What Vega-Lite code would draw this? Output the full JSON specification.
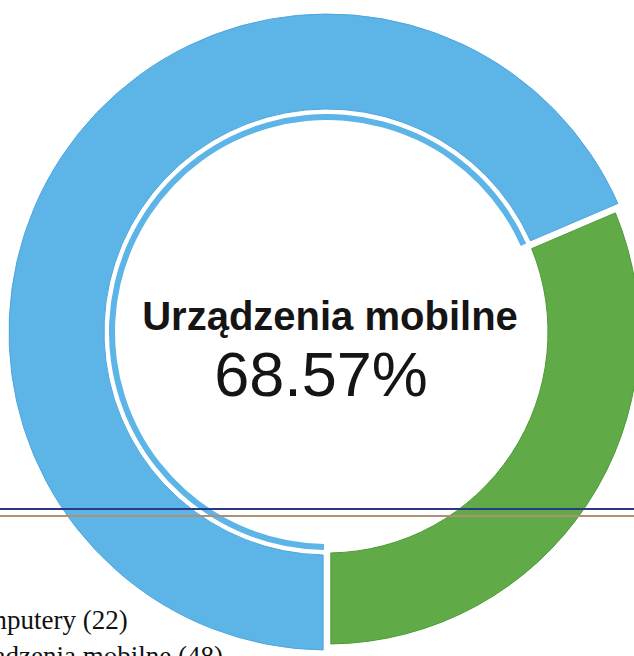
{
  "$schema": "https://vega.github.io/schema/vega-lite/v6.json",
  "width": 654,
  "height": 664,
  "padding": 0,
  "autosize": {"type": "none"},
  "background": "white",
  "config": {"view": {"stroke": null}},
  "datasets": {
    "segments": [
      {"cat": "Komputery (22)", "count": 22, "ord": 1},
      {"cat": "Urządzenia mobilne (48)", "count": 48, "ord": 2}
    ],
    "lines": [
      {"line": "navy", "pos": 76.66},
      {"line": "tan", "pos": 77.71}
    ],
    "center": [
      {"title": "Urządzenia mobilne", "pct": "68.57%"}
    ]
  },
  "layer": [
    {
      "data": {"name": "segments"},
      "transform": [
        {"stack": "count", "groupby": [], "sort": [{"field": "ord", "order": "ascending"}], "as": ["t0", "t1"]},
        {"filter": "datum.ord == 1"}
      ],
      "mark": {"type": "arc", "radius": 312, "radius2": 221, "padAngle": 0.02, "stroke": "#4c9a36", "strokeWidth": 1},
      "encoding": {
        "theta": {"field": "t0", "type": "quantitative", "scale": {"domain": [0, 70], "range": [1.1668, 7.45]}},
        "theta2": {"field": "t1"},
        "color": {
          "field": "cat", "type": "nominal",
          "scale": {"domain": ["Komputery (22)", "Urządzenia mobilne (48)"], "range": ["#60ab47", "#5cb4e7"]},
          "legend": {
            "orient": "none", "legendX": -74, "legendY": 607, "title": null,
            "symbolSize": 0, "symbolStrokeWidth": 0, "labelOffset": 0, "padding": 0,
            "labelFont": "Liberation Serif", "labelFontSize": 27, "labelColor": "#111111",
            "labelLimit": 600, "rowPadding": 8
          }
        }
      }
    },
    {
      "data": {"name": "segments"},
      "transform": [
        {"stack": "count", "groupby": [], "sort": [{"field": "ord", "order": "ascending"}], "as": ["t0", "t1"]},
        {"filter": "datum.ord == 2"}
      ],
      "mark": {"type": "arc", "radius": 318, "radius2": 223, "padAngle": 0.02, "stroke": "#4ea6dc", "strokeWidth": 1},
      "encoding": {
        "theta": {"field": "t0", "type": "quantitative", "scale": {"domain": [0, 70], "range": [1.1668, 7.45]}},
        "theta2": {"field": "t1"},
        "color": {"field": "cat", "type": "nominal"}
      }
    },
    {
      "data": {"name": "segments"},
      "transform": [
        {"stack": "count", "groupby": [], "sort": [{"field": "ord", "order": "ascending"}], "as": ["t0", "t1"]},
        {"filter": "datum.ord == 2"}
      ],
      "mark": {"type": "arc", "radius": 218, "radius2": 212, "padAngle": 0.02},
      "encoding": {
        "theta": {"field": "t0", "type": "quantitative", "scale": {"domain": [0, 70], "range": [1.1668, 7.45]}},
        "theta2": {"field": "t1"},
        "color": {"field": "cat", "type": "nominal"}
      }
    },
    {
      "data": {"name": "lines"},
      "transform": [{"filter": "datum.line == 'navy'"}],
      "mark": {"type": "rule", "stroke": "#2a3a84", "strokeWidth": 1.8},
      "encoding": {
        "y": {"field": "pos", "type": "quantitative", "scale": {"domain": [0, 100], "reverse": true, "nice": false}, "axis": null}
      }
    },
    {
      "data": {"name": "lines"},
      "transform": [{"filter": "datum.line == 'tan'"}],
      "mark": {"type": "rule", "stroke": "#b09072", "strokeWidth": 1.8},
      "encoding": {
        "y": {"field": "pos", "type": "quantitative"}
      }
    },
    {
      "data": {"name": "center"},
      "mark": {"type": "text", "font": "Liberation Sans", "fontWeight": "bold", "fontSize": 40, "color": "#151515", "align": "center", "baseline": "alphabetic", "dy": -2, "dx": 3},
      "encoding": {"text": {"field": "title"}}
    },
    {
      "data": {"name": "center"},
      "mark": {"type": "text", "font": "Liberation Sans", "fontSize": 63, "color": "#151515", "align": "center", "baseline": "alphabetic", "dy": 64, "dx": -6},
      "encoding": {"text": {"field": "pct"}}
    }
  ]
}
